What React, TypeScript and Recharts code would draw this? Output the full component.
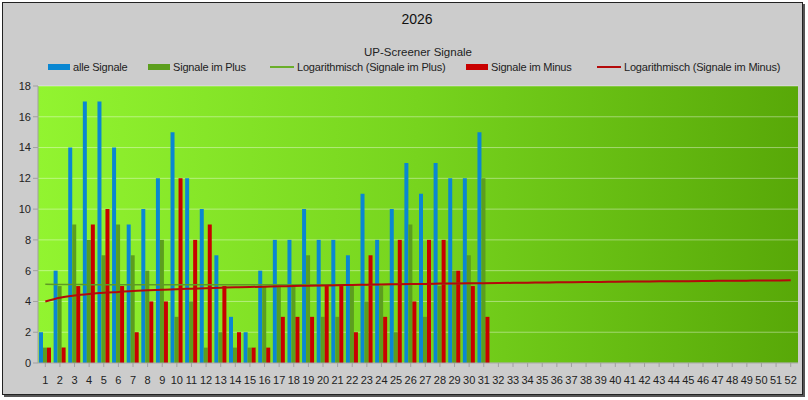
import React from "react";
import { ComposedChart, Bar, Line, XAxis, YAxis, CartesianGrid } from "recharts";

// Kalenderwochen 1..52
const weeks = [
  "1", "2", "3", "4", "5", "6", "7", "8", "9", "10", "11", "12", "13",
  "14", "15", "16", "17", "18", "19", "20", "21", "22", "23", "24", "25", "26",
  "27", "28", "29", "30", "31", "32", "33", "34", "35", "36", "37", "38", "39",
  "40", "41", "42", "43", "44", "45", "46", "47", "48", "49", "50", "51", "52",
];

const alleSignale = [2, 6, 14, 17, 17, 14, 9, 10, 12, 15, 12, 10, 7, 3, 2, 6, 8, 8, 10, 8, 8, 7, 11, 8, 10, 13, 11, 13, 12, 12, 15];
const signaleImPlus = [1, 5, 9, 8, 7, 9, 7, 6, 8, 3, 4, 1, 2, 1, 1, 5, 5, 5, 7, 3, 3, 5, 4, 5, 2, 9, 3, 5, 6, 7, 12];
const signaleImMinus = [1, 1, 5, 9, 10, 5, 2, 4, 4, 12, 8, 9, 5, 2, 1, 1, 3, 3, 3, 5, 5, 2, 7, 3, 8, 4, 8, 8, 6, 5, 3];

// Trendlinien
const trendPlus = [
  5.11, 5.1, 5.1, 5.09, 5.09, 5.09, 5.08, 5.08, 5.08, 5.08, 5.08, 5.08, 5.08,
  5.08, 5.08, 5.08, 5.08, 5.08, 5.08, 5.08, 5.08, 5.08, 5.09, 5.1, 5.11, 5.12,
  5.13, 5.15, 5.16, 5.17, 5.18, 5.19, 5.2, 5.21, 5.22, 5.23, 5.24, 5.25, 5.26,
  5.27, 5.28, 5.29, 5.3, 5.3, 5.31, 5.32, 5.33, 5.33, 5.34, 5.35, 5.35, 5.36,
];
const trendMinus = [
  4.0, 4.24, 4.38, 4.48, 4.56, 4.62, 4.68, 4.72, 4.76, 4.8, 4.83, 4.86, 4.89,
  4.92, 4.94, 4.96, 4.98, 5.0, 5.02, 5.04, 5.06, 5.07, 5.09, 5.1, 5.12, 5.13,
  5.14, 5.16, 5.17, 5.18, 5.19, 5.2, 5.21, 5.22, 5.23, 5.24, 5.25, 5.26, 5.27,
  5.28, 5.29, 5.3, 5.31, 5.31, 5.32, 5.33, 5.34, 5.34, 5.35, 5.36, 5.36, 5.37,
];

const yTicks = [0, 2, 4, 6, 8, 10, 12, 14, 16, 18];

const data = weeks.map((w, i) => ({
  week: w,
  alle: alleSignale[i],
  plus: signaleImPlus[i],
  minus: signaleImMinus[i],
  trendPlus: trendPlus[i],
  trendMinus: trendMinus[i],
}));

const BLUE = "#0a87d2";
const GREEN = "#5c9e1e";
const RED = "#c80000";
const TREND_GREEN = "#5f9a24";
const TREND_RED = "#b40a0a";

const font = "'Liberation Sans', Arial, sans-serif";

const legendItems = [
  { label: "alle Signale", color: BLUE, kind: "bar", x: 48 },
  { label: "Signale im Plus", color: GREEN, kind: "bar", x: 148 },
  { label: "Logarithmisch (Signale im Plus)", color: "#6aae2a", kind: "line", x: 270 },
  { label: "Signale im Minus", color: RED, kind: "bar", x: 466 },
  { label: "Logarithmisch (Signale im Minus)", color: TREND_RED, kind: "line", x: 597 },
];

export default function App() {
  return (
    <div
      style={{
        position: "fixed",
        left: 0,
        top: 0,
        width: 808,
        height: 400,
        background: "#ffffff",
        fontFamily: font,
      }}
    >
      <div
        style={{
          position: "absolute",
          left: 2,
          top: 2,
          width: 799,
          height: 391,
          background: "#cccccc",
          border: "1px solid #222",
          boxShadow: "2px 2px 0 #555",
        }}
      />
      <div style={{ position: "absolute", left: 0, top: 11, width: 834, textAlign: "center", fontSize: 14, color: "#111" }}>
        2026
      </div>
      <div style={{ position: "absolute", left: 0, top: 46, width: 836, textAlign: "center", fontSize: 11.5, color: "#222" }}>
        UP-Screener Signale
      </div>
      {legendItems.map((item) => (
        <div
          key={item.label}
          style={{
            position: "absolute",
            left: item.x,
            top: 60,
            height: 14,
            display: "flex",
            alignItems: "center",
            fontSize: 11,
            color: "#222",
            whiteSpace: "nowrap",
          }}
        >
          {item.kind === "bar" ? (
            <div style={{ width: 22, height: 6, background: item.color, marginRight: 3 }} />
          ) : (
            <div style={{ width: 24, height: 2, background: item.color, marginRight: 3 }} />
          )}
          <span style={{ letterSpacing: -0.2 }}>{item.label}</span>
        </div>
      ))}
      <div style={{ position: "absolute", left: 0, top: 0 }}>
        <ComposedChart
          width={808}
          height={400}
          data={data}
          margin={{ top: 86, right: 10, left: 0, bottom: 0 }}
          barGap={0}
        >
          <defs>
            <linearGradient id="plotBg" x1="0" y1="0" x2="1" y2="0">
              <stop offset="0%" stopColor="#92f430" />
              <stop offset="50%" stopColor="#77d41e" />
              <stop offset="100%" stopColor="#58a808" />
            </linearGradient>
          </defs>
          <CartesianGrid
            vertical={false}
            fill="url(#plotBg)"
            fillOpacity={1}
            stroke="#ffffff"
            strokeOpacity={0.4}
          />
          <XAxis
            dataKey="week"
            interval={0}
            height={37}
            tickSize={4}
            tickMargin={9}
            axisLine={{ stroke: "#a0a0a0" }}
            tickLine={{ stroke: "#a0a0a0" }}
            tick={{ fontSize: 11, fill: "#222", fontFamily: font }}
          />
          <YAxis
            domain={[0, 18]}
            ticks={yTicks}
            width={38}
            tickSize={5}
            tickMargin={2}
            axisLine={{ stroke: "#a0a0a0" }}
            tickLine={{ stroke: "#a0a0a0" }}
            tick={{ fontSize: 11, fill: "#222", fontFamily: font }}
          />
          <Bar dataKey="alle" fill={BLUE} barSize={4} isAnimationActive={false} />
          <Bar dataKey="plus" fill={GREEN} barSize={4} isAnimationActive={false} />
          <Bar dataKey="minus" fill={RED} barSize={4} isAnimationActive={false} />
          <Line
            dataKey="trendPlus"
            type="monotone"
            stroke={TREND_GREEN}
            strokeWidth={1.5}
            dot={false}
            isAnimationActive={false}
          />
          <Line
            dataKey="trendMinus"
            type="monotone"
            stroke={TREND_RED}
            strokeWidth={2}
            dot={false}
            isAnimationActive={false}
          />
        </ComposedChart>
      </div>
    </div>
  );
}
